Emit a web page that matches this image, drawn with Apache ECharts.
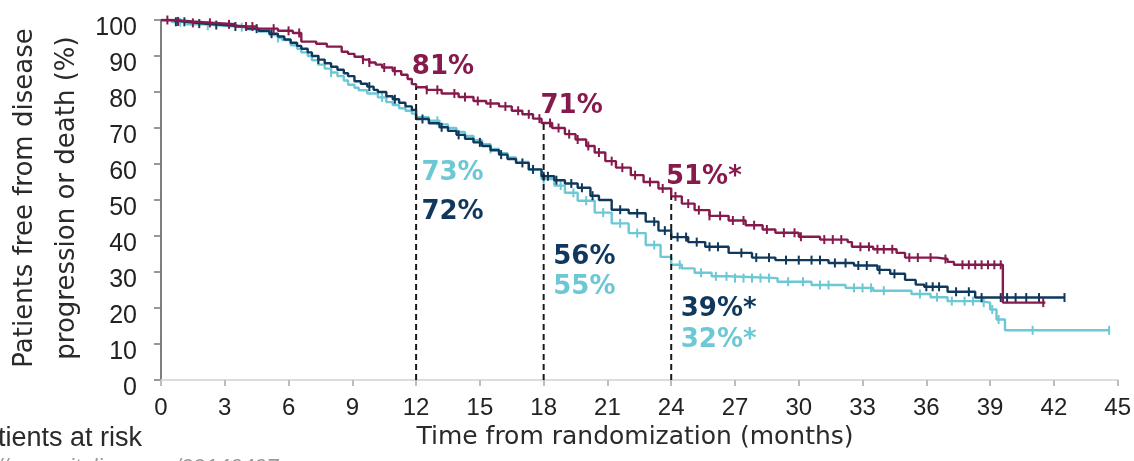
<!DOCTYPE html>
<html>
<head>
<meta charset="utf-8">
<style>
html,body{margin:0;padding:0;background:#fff;}
#chart{width:1134px;height:461px;}
</style>
<script src="https://cdn.jsdelivr.net/npm/echarts@6/dist/echarts.min.js"></script>
</head>
<body>
<div id="chart"></div>
<script>
// ---- data ----
const xTicks = [0,3,6,9,12,15,18,21,24,27,30,33,36,39,42,45];
const yTicks = [0,10,20,30,40,50,60,70,80,90,100];

// Kaplan-Meier curves: [month, % free from progression/death]
const armPurple = [[0,100],[0.6,99.6],[1.5,99.2],[2.5,98.8],[3.5,98.2],[4.5,97.6],[5.5,97],[6.2,96.4],[6.6,94],[7.3,93.4],[7.8,92.6],[8.5,91.2],[8.8,90.6],[9.1,89.8],[9.5,89],[9.8,88.2],[10.1,87.6],[10.4,86.8],[10.9,85.8],[11.3,84.8],[11.6,83.6],[11.8,82.2],[12.0,81.3],[12.5,80.6],[13.2,79.6],[14,78.6],[14.7,77.5],[15.3,76.8],[15.9,76],[16.5,74.8],[17,73.8],[17.5,72.6],[17.9,71.4],[18.4,70],[19,68.3],[19.5,66.8],[20,65],[20.4,63.2],[20.9,60.8],[21.4,59],[22.1,56.9],[22.7,55],[23.4,53.2],[24,51],[24.5,49],[25.1,47.2],[25.8,45.6],[26.7,44.3],[27.5,43],[28.3,41.8],[28.9,40.9],[30,39.8],[31,39],[32.3,38.3],[32.5,37],[33.5,36.3],[34.6,35.3],[35,34],[36.5,33.6],[37,32.8],[37.3,32],[39.6,21.5],[41.6,21.5]];
const armNavy = [[0,100],[0.5,99.5],[1.2,99],[2,98.6],[3,98.2],[4,97.6],[4.6,97],[5.1,96.2],[5.5,95.4],[5.8,94.6],[6.1,93.7],[6.4,92.8],[6.6,92],[6.9,91],[7.1,90],[7.4,89],[7.7,88],[8,87],[8.3,86.2],[8.6,85.2],[8.8,84.4],[9.1,83],[9.4,82.3],[9.7,81.5],[10,80.6],[10.2,80],[10.6,78.8],[10.9,78],[11.2,77],[11.5,76],[11.8,75],[12,72.5],[12.6,71.3],[13.1,70.2],[13.5,69.2],[13.9,68.1],[14.3,67],[14.7,66],[15.1,65],[15.5,63.8],[15.9,62.6],[16.3,61.4],[16.7,60.3],[17.3,58.5],[17.9,56.6],[18.5,55.5],[19,54.6],[19.6,53.4],[20.2,51.2],[20.6,50],[21.2,47.3],[22,46.3],[22.8,44],[23.4,41.5],[24,39.7],[24.8,38.3],[25.6,37],[26.7,35.3],[27.8,34],[28.9,33.3],[31.4,32.5],[32.6,31.8],[33.7,30.6],[34.3,29.5],[35,27.8],[35.5,26.5],[35.9,25.9],[37,24.5],[38.3,22.9],[42.5,22.9]];
const armCyan = [[0,100],[0.5,99.4],[1.2,98.8],[2,98.4],[3,98],[4,97.4],[4.6,96.8],[5.1,95.8],[5.5,95],[5.7,94.4],[6.1,93],[6.4,92],[6.6,91],[6.9,90],[7.1,88.8],[7.4,87.6],[7.7,86.5],[8,85.4],[8.3,84.4],[8.6,83.2],[8.8,82],[9.1,81.2],[9.3,80.5],[9.7,79.6],[10.2,78.5],[10.6,77.2],[10.9,76.4],[11.2,75.5],[11.5,74.8],[11.8,74],[12,73],[12.6,72],[13.1,71],[13.5,70],[13.9,68.9],[14.3,67.8],[14.7,66.6],[15.1,65.5],[15.5,64.2],[15.9,63],[16.3,61.8],[16.7,60.6],[17.3,58.4],[17.9,55.8],[18.5,54],[19,52],[19.6,49.8],[20.4,46.5],[21.2,43.5],[22,40.8],[22.8,37.5],[23.5,34.2],[24,32],[24.5,31],[25.1,29.8],[25.9,28.8],[26.7,28.3],[29,27.3],[30.6,26.4],[32.2,25.6],[33.5,24.8],[35.3,23.9],[36.2,23],[37,21.9],[38.5,21.5],[39,19.6],[39.3,16.8],[39.7,13.8],[44.6,13.8]];

// censoring times (months)
const censPurple = [0.3,0.8,1.5,2.3,3.2,4.0,4.3,5.3,6.0,6.5,9.5,9.8,10.5,11.0,12.5,13.0,13.8,14.3,14.9,15.5,16.2,16.8,17.3,17.8,18.3,18.7,19.2,19.6,20.1,20.6,21.2,21.7,22.3,23.0,23.6,24.2,24.8,25.3,25.8,26.3,26.9,27.4,27.9,28.5,29.3,29.8,30.1,31.2,31.6,32.0,32.9,33.3,33.7,34.0,34.4,35.2,35.6,36.2,36.9,37.7,38.0,38.3,38.6,38.9,39.2,39.5,41.5];
const censNavy = [0.7,1.1,1.8,2.6,3.5,4.5,5.2,7.4,9.8,11.0,12.3,13.2,14.0,15.0,16.0,17.0,17.5,18.0,18.2,18.6,19.3,19.8,20.3,21.6,22.4,23.2,23.7,24.3,24.7,25.2,25.8,26.2,27.3,28.0,28.6,29.4,30.0,30.6,31.0,31.7,32.2,32.8,33.2,33.8,34.5,36.0,36.3,36.6,37.4,38.0,38.6,39.5,39.8,40.2,40.7,41.3,42.5];
const censCyan = [0.9,2.2,3.8,5.5,8.0,10.4,13.0,15.5,18.0,18.8,19.4,20.0,20.8,21.6,22.4,23.2,24.4,25.4,26.1,26.6,27.0,27.4,27.8,28.2,28.6,29.5,30.2,31.0,31.4,32.6,33.0,33.4,34.0,35.7,36.5,37.2,37.8,38.2,38.7,39.1,39.4,41.0,44.6];

// landmark months (dashed reference lines)
const landmarks = [12, 18, 24];

// callout labels: text and anchor [month, %]
const callPurple = [['81%',[11.8,87]],['71%',[17.85,76]],['51%*',[23.75,56.2]]];
const callNavy   = [['72%',[12.25,46.6]],['56%',[18.45,34.2]],['39%*',[24.45,19.6]]];
const callCyan   = [['73%',[12.25,57.3]],['55%',[18.45,25.9]],['32%*',[24.45,11]]];

// ---- styling ----
const C_PURPLE = '#861A4C';
const C_NAVY = '#0F385C';
const C_CYAN = '#6CC8D4';

function stepValue(curve, t){
  let v = curve[0][1];
  for (const p of curve){ if (p[0] <= t) v = p[1]; else break; }
  return v;
}

function kmSeries(curve, color, z){
  return {type:'line', data:curve, step:'end', showSymbol:false, z:z,
    lineStyle:{color:color, width:2.4}, itemStyle:{color:color}, animation:false, silent:true};
}
function censSeries(curve, times, color, z){
  return {type:'scatter', data:times.map(t=>[t, stepValue(curve,t)]), symbol:'rect', symbolSize:[2,9], z:z,
    itemStyle:{color:color, opacity:1}, emphasis:{disabled:true}, animation:false, silent:true};
}
function calloutSeries(list, color){
  return {type:'scatter', data:list.map(c=>({value:c[1], name:c[0]})), symbolSize:0, z:20,
    itemStyle:{opacity:1},
    label:{show:true, position:'right', distance:0, formatter:p=>p.name, color:color,
      fontFamily:'DejaVu Sans', fontWeight:'bold', fontSize:26, opacity:1},
    emphasis:{disabled:true}, animation:false, silent:true};
}

const series = [
  kmSeries(armCyan, C_CYAN, 3), censSeries(armCyan, censCyan, C_CYAN, 3),
  kmSeries(armNavy, C_NAVY, 4), censSeries(armNavy, censNavy, C_NAVY, 4),
  kmSeries(armPurple, C_PURPLE, 5), censSeries(armPurple, censPurple, C_PURPLE, 5),
];
landmarks.forEach(m=>{
  series.push({type:'line', data:[[m,0],[m,stepValue(armPurple,m)]], showSymbol:false, z:6,
    lineStyle:{color:'#1a1a1a', width:2, type:[6,4]}, animation:false, silent:true});
});
series.push(calloutSeries(callPurple, C_PURPLE), calloutSeries(callNavy, C_NAVY), calloutSeries(callCyan, C_CYAN));

const chart = echarts.init(document.getElementById('chart'), null, {renderer:'canvas'});
chart.setOption({
  backgroundColor:'#fff',
  animation:false,
  grid:{left:161, right:15, top:20, bottom:81, containLabel:false},
  xAxis:{type:'value', min:0, max:45, interval:3,
    axisLine:{show:true, lineStyle:{color:'#dcdcdc', width:2}},
    axisTick:{show:true, length:6, lineStyle:{color:'#bdbdbd', width:2}},
    axisLabel:{fontSize:24, color:'#222', fontFamily:'Liberation Sans', margin:16,
      formatter:v=>xTicks.includes(v)?String(v):''},
    splitLine:{show:false}},
  yAxis:{type:'value', min:0, max:100, interval:10,
    axisLine:{show:true, lineStyle:{color:'#555', width:1.5}},
    axisTick:{show:true, length:7, lineStyle:{color:'#777', width:1.5}},
    axisLabel:{fontSize:25, color:'#222', fontFamily:'Liberation Sans', margin:24,
      verticalAlign:'top', lineHeight:16,
      formatter:v=>yTicks.includes(v)?String(v):''},
    splitLine:{show:false}},
  graphic:[
    {type:'text', x:46, y:198, rotation:Math.PI/2, silent:true,
      style:{text:'Patients free from disease\nprogression or death (%)', fontSize:26, lineHeight:42,
        fontFamily:'DejaVu Sans', fill:'#2a2a2a', align:'center', verticalAlign:'middle'}},
    {type:'text', x:635, y:437, silent:true,
      style:{text:'Time from randomization (months)', fontSize:25, fontFamily:'DejaVu Sans',
        fill:'#2a2a2a', align:'center', verticalAlign:'middle'}},
    {type:'text', x:142, y:439, silent:true,
      style:{text:'Patients at risk', fontSize:27, fontFamily:'Liberation Sans',
        fill:'#2a2a2a', align:'right', verticalAlign:'middle'}},
    {type:'text', x:-4, y:468, silent:true,
      style:{text:'//eorp.sitelipe.com/99140497', fontSize:22, fontStyle:'italic', fontFamily:'Liberation Sans',
        fill:'#9a9a9a', align:'left', verticalAlign:'middle'}}
  ],
  series:series
});
</script>
</body>
</html>
